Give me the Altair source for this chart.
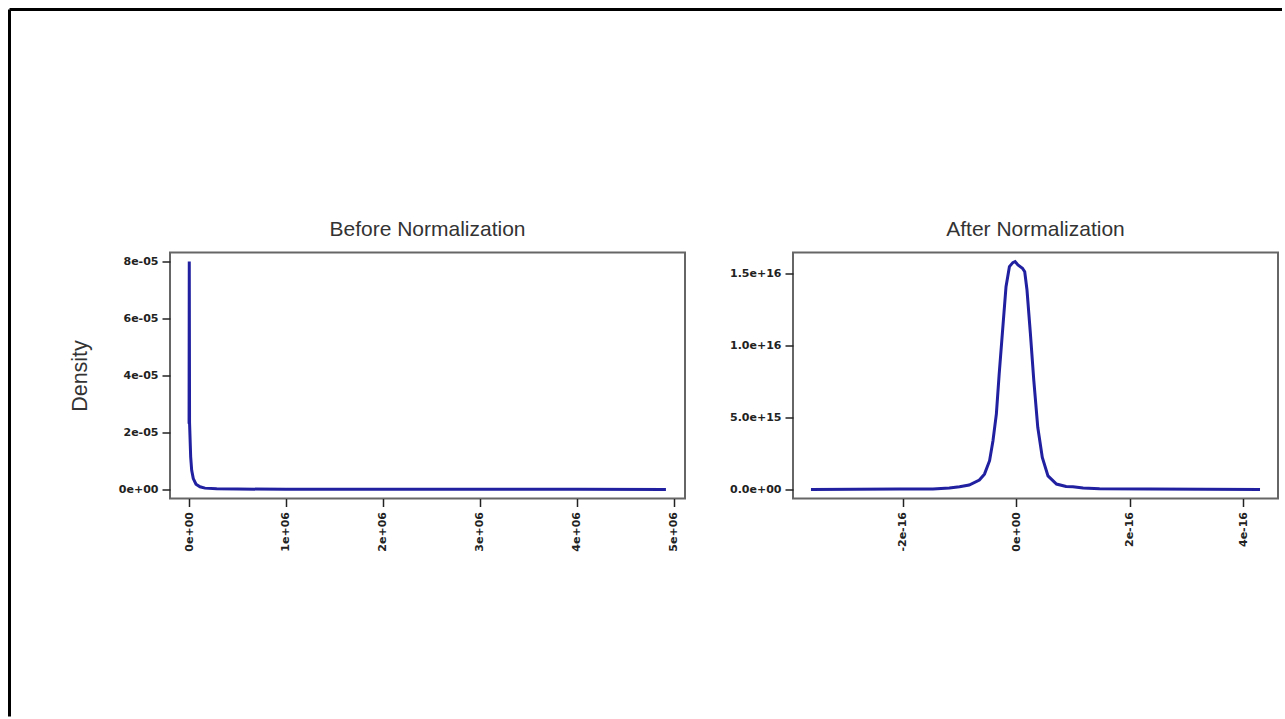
import json

import altair as alt
import pandas as pd

# Kernel density of the raw values
before_x = [0, 2000, 5000, 16500, 26900, 43400, 71300, 112600, 164300, 285000,
            500000, 1000000, 2000000, 3000000, 4000000, 4920000]
before_y = [2.30e-05, 7.98e-05, 2.33e-05, 1.14e-05, 6.7e-06, 3.8e-06, 1.85e-06,
            9.2e-07, 4.5e-07, 2.0e-07, 1.2e-07, 7.0e-08, 4.0e-08, 3.0e-08,
            2.0e-08, 1.0e-08]

# Kernel density of the normalized values
after_x = [-3.62e-16, -2.06e-16, -1.47e-16, -1.18e-16, -1.00e-16, -0.83e-16,
           -0.65e-16, -0.56e-16, -0.47e-16, -0.41e-16, -0.35e-16, -0.30e-16,
           -0.24e-16, -0.18e-16, -0.12e-16, -0.06e-16, -0.02e-16, 0.03e-16,
           0.11e-16, 0.15e-16, 0.19e-16, 0.25e-16, 0.31e-16, 0.38e-16,
           0.46e-16, 0.56e-16, 0.71e-16, 0.88e-16, 1.00e-16, 1.18e-16,
           1.47e-16, 2.35e-16, 4.30e-16]
after_y = [0.03e15, 0.05e15, 0.05e15, 0.12e15, 0.21e15, 0.33e15, 0.68e15,
           1.09e15, 2.02e15, 3.41e15, 5.27e15, 8.06e15, 11.07e15, 14.09e15,
           15.48e15, 15.76e15, 15.83e15, 15.60e15, 15.37e15, 15.13e15,
           13.86e15, 10.84e15, 7.59e15, 4.34e15, 2.25e15, 0.97e15, 0.40e15,
           0.23e15, 0.21e15, 0.12e15, 0.07e15, 0.05e15, 0.03e15]

# Axis ticks and their printed labels
before_x_ticks = [0, 1e6, 2e6, 3e6, 4e6, 5e6]
before_x_labels = ["0e+00", "1e+06", "2e+06", "3e+06", "4e+06", "5e+06"]
before_y_ticks = [0, 2e-05, 4e-05, 6e-05, 8e-05]
before_y_labels = ["0e+00", "2e-05", "4e-05", "6e-05", "8e-05"]
after_x_ticks = [-2e-16, 0, 2e-16, 4e-16]
after_x_labels = ["-2e-16", "0e+00", "2e-16", "4e-16"]
after_y_ticks = [0, 5e15, 1e16, 1.5e16]
after_y_labels = ["0.0e+00", "5.0e+15", "1.0e+16", "1.5e+16"]

titles = ["Before Normalization", "After Normalization"]
y_title = "Density"

LINE = "#2020a0"
PANEL_H = 246


def padded(vals):
    # R-style axis range: data range widened by 4% on each side
    lo, hi = min(vals), max(vals)
    pad = 0.04 * (hi - lo)
    return [lo - pad, hi + pad]


def label_expr(ticks, labels):
    return "{}[indexof({}, datum.value)]".format(json.dumps(labels), json.dumps(ticks))


one_row = pd.DataFrame({"k": [0]})


def panel(xs, ys, xt, xl, yt, yl, title, width, ytitle=None):
    df = pd.DataFrame({"x": xs, "y": ys})
    x_axis = alt.Axis(values=xt, labelExpr=label_expr(xt, xl), labelAngle=270,
                      labelPadding=5)
    if ytitle:
        y_axis = alt.Axis(values=yt, labelExpr=label_expr(yt, yl), title=ytitle,
                          titleFont="Liberation Sans", titleFontSize=21.5,
                          titleFontWeight="normal", titleColor="#333333",
                          titleAngle=270, titleAlign="center",
                          titleBaseline="alphabetic", titleX=-84,
                          titleY=PANEL_H / 2)
    else:
        y_axis = alt.Axis(values=yt, labelExpr=label_expr(yt, yl))
    curve = alt.Chart(df).mark_line(color=LINE, strokeWidth=3).encode(
        x=alt.X("x:Q", title=None, axis=x_axis,
                scale=alt.Scale(domain=padded(xs), nice=False, zero=False)),
        y=alt.Y("y:Q", title=ytitle if ytitle else None, axis=y_axis,
                scale=alt.Scale(domain=padded(ys), nice=False, zero=False)),
    )
    head = alt.Chart(one_row).mark_text(
        text=title, font="Liberation Sans", fontSize=21, color="#333333",
        align="center", baseline="alphabetic",
    ).encode(x=alt.value(width / 2), y=alt.value(-17))
    return [curve, head]


left_w, right_w = 515, 485

left_layers = panel(before_x, before_y, before_x_ticks, before_x_labels,
                    before_y_ticks, before_y_labels, titles[0], left_w, y_title)
right_layers = panel(after_x, after_y, after_x_ticks, after_x_labels,
                     after_y_ticks, after_y_labels, titles[1], right_w)

# Outer figure frame (top and left edges)
frame_top = alt.Chart(one_row).mark_rule(color="black", strokeWidth=3).encode(
    x=alt.value(-160.5), x2=alt.value(1112), y=alt.value(-243))
frame_left = alt.Chart(one_row).mark_rule(color="black", strokeWidth=3).encode(
    x=alt.value(-160.5), y=alt.value(-243), y2=alt.value(464))

left = alt.layer(frame_top, frame_left, *left_layers).properties(
    width=left_w, height=PANEL_H)
right = alt.layer(*right_layers).properties(width=right_w, height=PANEL_H)

chart = alt.hconcat(left, right, spacing=108, bounds="flush").properties(
    padding={"left": 7, "top": 6.5, "right": 0, "bottom": 0},
    background="white",
).configure_view(
    stroke="#666666", strokeWidth=2,
).configure_axis(
    labelFont="DejaVu Sans", labelFontWeight="bold", labelFontSize=11,
    labelColor="#222222", tickColor="#222222", tickWidth=1.5, tickSize=8,
    domain=False, grid=False, labelPadding=4,
)

chart.save("out.html", embed_options={"renderer": "svg", "actions": False})
